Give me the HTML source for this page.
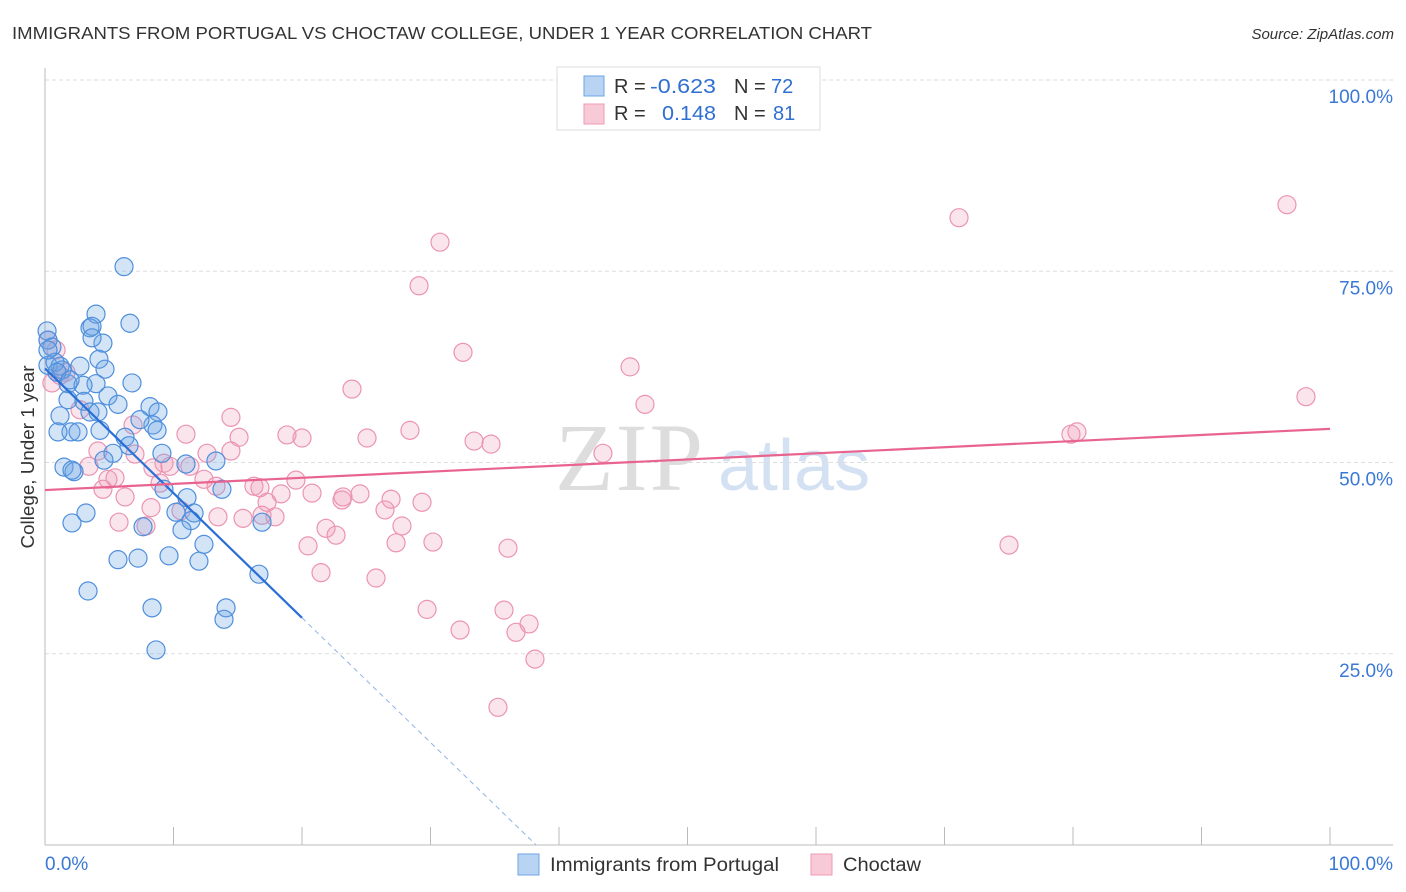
<!DOCTYPE html>
<html><head><meta charset="utf-8"><style>
body{margin:0;background:#fff;width:1406px;height:892px;overflow:hidden;font-family:"Liberation Sans",sans-serif}
svg{position:absolute;left:0;top:0}
</style></head><body>
<svg id="chart" width="1406" height="892" xmlns="http://www.w3.org/2000/svg">
<text x="12" y="39" font-size="17.5" fill="#333" textLength="860" lengthAdjust="spacingAndGlyphs">IMMIGRANTS FROM PORTUGAL VS CHOCTAW COLLEGE, UNDER 1 YEAR CORRELATION CHART</text>
<text x="1394" y="39" font-size="15" font-style="italic" fill="#333" text-anchor="end">Source: ZipAtlas.com</text>
<g>
<text x="555" y="490" font-size="96" font-family="Liberation Serif,serif" fill="#ddd" letter-spacing="2">ZIP</text>
<text x="718" y="490" font-size="72" fill="#c9daf0" opacity="0.8">atlas</text>
</g>
<g id="grid"></g>
<g id="axes"></g>
<g id="pts"></g>
<g id="trend"></g>
<text transform="translate(34,457) rotate(-90)" font-size="18" fill="#333" text-anchor="middle" textLength="183" lengthAdjust="spacingAndGlyphs">College, Under 1 year</text>
<g>
<rect x="557" y="67" width="263" height="63" fill="#fff" stroke="#ddd"/>
<rect x="584" y="76" width="20" height="20" fill="#b9d3f3" stroke="#6ea4e4"/>
<rect x="584" y="104" width="20" height="20" fill="#f8c9d7" stroke="#ee9cb6"/>
<text x="614" y="93" font-size="20" fill="#333">R =</text>
<text x="650" y="93" font-size="20" fill="#2f6fd1" textLength="66" lengthAdjust="spacingAndGlyphs">-0.623</text>
<text x="734" y="93" font-size="20" fill="#333">N =</text>
<text x="771" y="93" font-size="20" fill="#2f6fd1">72</text>
<text x="614" y="120" font-size="20" fill="#333">R =</text>
<text x="662" y="120" font-size="20" fill="#2f6fd1" textLength="54" lengthAdjust="spacingAndGlyphs">0.148</text>
<text x="734" y="120" font-size="20" fill="#333">N =</text>
<text x="773" y="120" font-size="20" fill="#2f6fd1">81</text>
</g>
<g>
<rect x="518" y="854" width="21" height="21" fill="#b9d3f3" stroke="#6ea4e4"/>
<text x="550" y="871" font-size="19" fill="#333" textLength="229" lengthAdjust="spacingAndGlyphs">Immigrants from Portugal</text>
<rect x="811" y="854" width="21" height="21" fill="#f8c9d7" stroke="#ee9cb6"/>
<text x="843" y="871" font-size="19" fill="#333" textLength="78" lengthAdjust="spacingAndGlyphs">Choctaw</text>
</g>
</svg>
<script>
const blueX=[6.15,3.97,3.5,3.66,6.61,0.16,0.23,0.54,4.51,3.66,4.2,4.67,0.23,1.17,2.72,6.77,1.79,3.97,2.96,4.9,1.79,3.03,5.68,3.5,4.12,8.17,8.79,1.17,8.4,7.39,8.72,2.02,2.57,1.01,6.23,6.54,5.29,9.1,4.59,10.97,13.3,1.48,2.26,2.1,13.77,9.26,11.05,11.6,11.36,16.89,3.19,2.1,10.66,12.37,5.68,7.24,9.65,11.98,16.65,3.35,8.33,14.09,13.93,8.64,10.19,7.63,0.78,1.32,4.28,0.23,0.93,1.95];
const blueY=[75.6,69.4,67.6,67.8,68.2,67.2,66.0,65.1,65.6,66.3,63.5,62.2,62.7,62.6,62.6,60.4,60.3,60.3,60.1,58.7,58.2,58.0,57.6,56.6,56.6,57.3,56.6,56.1,54.9,55.6,54.2,54.0,54.0,54.0,53.3,52.2,51.2,51.2,50.3,49.8,50.2,49.4,48.8,49.0,46.5,46.5,45.4,43.4,42.4,42.2,43.4,42.1,41.2,39.3,37.3,37.5,37.8,37.1,35.4,33.2,31.0,31.0,29.5,25.5,43.5,41.6,63.1,62.1,54.2,64.7,61.8,60.8];
const pinkX=[96.65,71.13,30.74,29.11,32.53,45.53,23.89,98.13,46.69,14.47,6.85,28.4,80.31,79.84,15.1,18.83,20.0,25.06,10.97,33.39,34.71,43.42,4.12,12.61,14.47,9.26,9.73,7.0,3.42,4.9,19.53,12.37,8.95,4.51,20.78,6.23,18.37,24.51,26.93,29.34,23.19,16.26,16.73,13.31,8.25,26.46,23.11,17.28,10.58,16.89,17.9,13.46,15.41,5.76,7.86,21.87,22.65,27.78,30.19,27.32,20.47,36.03,75.02,21.48,25.76,29.73,35.72,37.67,32.3,36.65,38.13,35.25,0.54,0.86,1.63,2.72,1.17,0.23,8.4,11.28,5.45];
const pinkY=[83.7,82.0,78.8,73.1,64.4,62.5,59.6,58.6,57.6,55.9,54.9,54.2,54.0,53.7,53.3,53.6,53.2,53.2,53.7,52.8,52.4,51.2,51.5,51.2,51.5,49.9,49.5,51.1,49.5,47.8,47.7,47.8,47.3,46.5,46.0,45.5,45.9,45.9,45.2,44.8,45.5,46.9,46.7,46.9,44.1,43.8,45.1,44.8,43.7,43.1,42.9,42.9,42.7,42.2,41.7,41.4,40.5,41.7,39.6,39.5,39.1,38.8,39.2,35.6,34.9,30.8,30.7,28.9,28.1,27.8,24.3,18.0,60.4,64.7,61.8,56.9,61.4,66.0,49.3,49.5,48.0];
const blueTrend=[62.3,-1.63];
const pinkTrend=[46.4,0.08];
const yTicks=[25,50,75,100];
const yTickLabels=["25.0%","50.0%","75.0%","100.0%"];
const xTicks=[0,10,20,30,40,50,60,70,80,90,100];

const NS="http://www.w3.org/2000/svg";
const sx=v=>45+12.85*v, sy=v=>845-7.65*v;
function mk(tag,attrs,parent){const e=document.createElementNS(NS,tag);for(const k in attrs)e.setAttribute(k,attrs[k]);parent.appendChild(e);return e;}
const grid=document.getElementById('grid'),axes=document.getElementById('axes'),pts=document.getElementById('pts'),tr=document.getElementById('trend');
yTicks.forEach((t,i)=>{
 const l=mk('line',{x1:45,x2:1393,y1:sy(t),y2:sy(t),stroke:'#ddd','stroke-dasharray':'4,3'},grid);
 
 
 const tx=mk('text',{x:1393,y:sy(t)+23,'font-size':19,fill:'#3a78d6','text-anchor':'end'},axes);
 tx.textContent=yTickLabels[i];
 
 
});
const ax=mk('line',{x1:45,x2:45,y1:68,y2:845,stroke:'#bbb'},axes);


const bx=mk('line',{x1:45,x2:1393,y1:845,y2:845,stroke:'#bbb'},axes);


xTicks.forEach(t=>{const l=mk('line',{x1:sx(t),x2:sx(t),y1:827,y2:845,stroke:'#bbb'},axes);
 
 });
const xl0=mk('text',{x:45,y:870,'font-size':19,fill:'#3a78d6'},axes);xl0.textContent='0.0%';


const xl1=mk('text',{x:1393,y:870,'font-size':19,fill:'#3a78d6','text-anchor':'end'},axes);xl1.textContent='100.0%';


function dots(X,Y,fill,stroke,name){X.forEach((x,i)=>{const c=mk('circle',{cx:sx(x),cy:sy(Y[i]),r:9,fill:fill,stroke:stroke,'stroke-width':1.2},pts);
 
 });}
dots(pinkX,pinkY,'rgba(240,150,180,0.25)','#eb94b2','choctaw-point');
dots(blueX,blueY,'rgba(110,165,230,0.3)','#4f8fdc','portugal-point');
const bEnd=20, bZero=-blueTrend[0]/blueTrend[1];
const b1=mk('line',{x1:sx(0),y1:sy(blueTrend[0]),x2:sx(bEnd),y2:sy(blueTrend[0]+blueTrend[1]*bEnd),stroke:'#2a6fd6','stroke-width':2.2},tr);


const b2=mk('line',{x1:sx(bEnd),y1:sy(blueTrend[0]+blueTrend[1]*bEnd),x2:sx(bZero),y2:sy(0),stroke:'#8fb3e6','stroke-width':1,'stroke-dasharray':'5,4'},tr);


const p1=mk('line',{x1:sx(0),y1:sy(pinkTrend[0]),x2:sx(100),y2:sy(pinkTrend[0]+pinkTrend[1]*100),stroke:'#e8648e','stroke-width':2.2},tr);


</script>
</body></html>
